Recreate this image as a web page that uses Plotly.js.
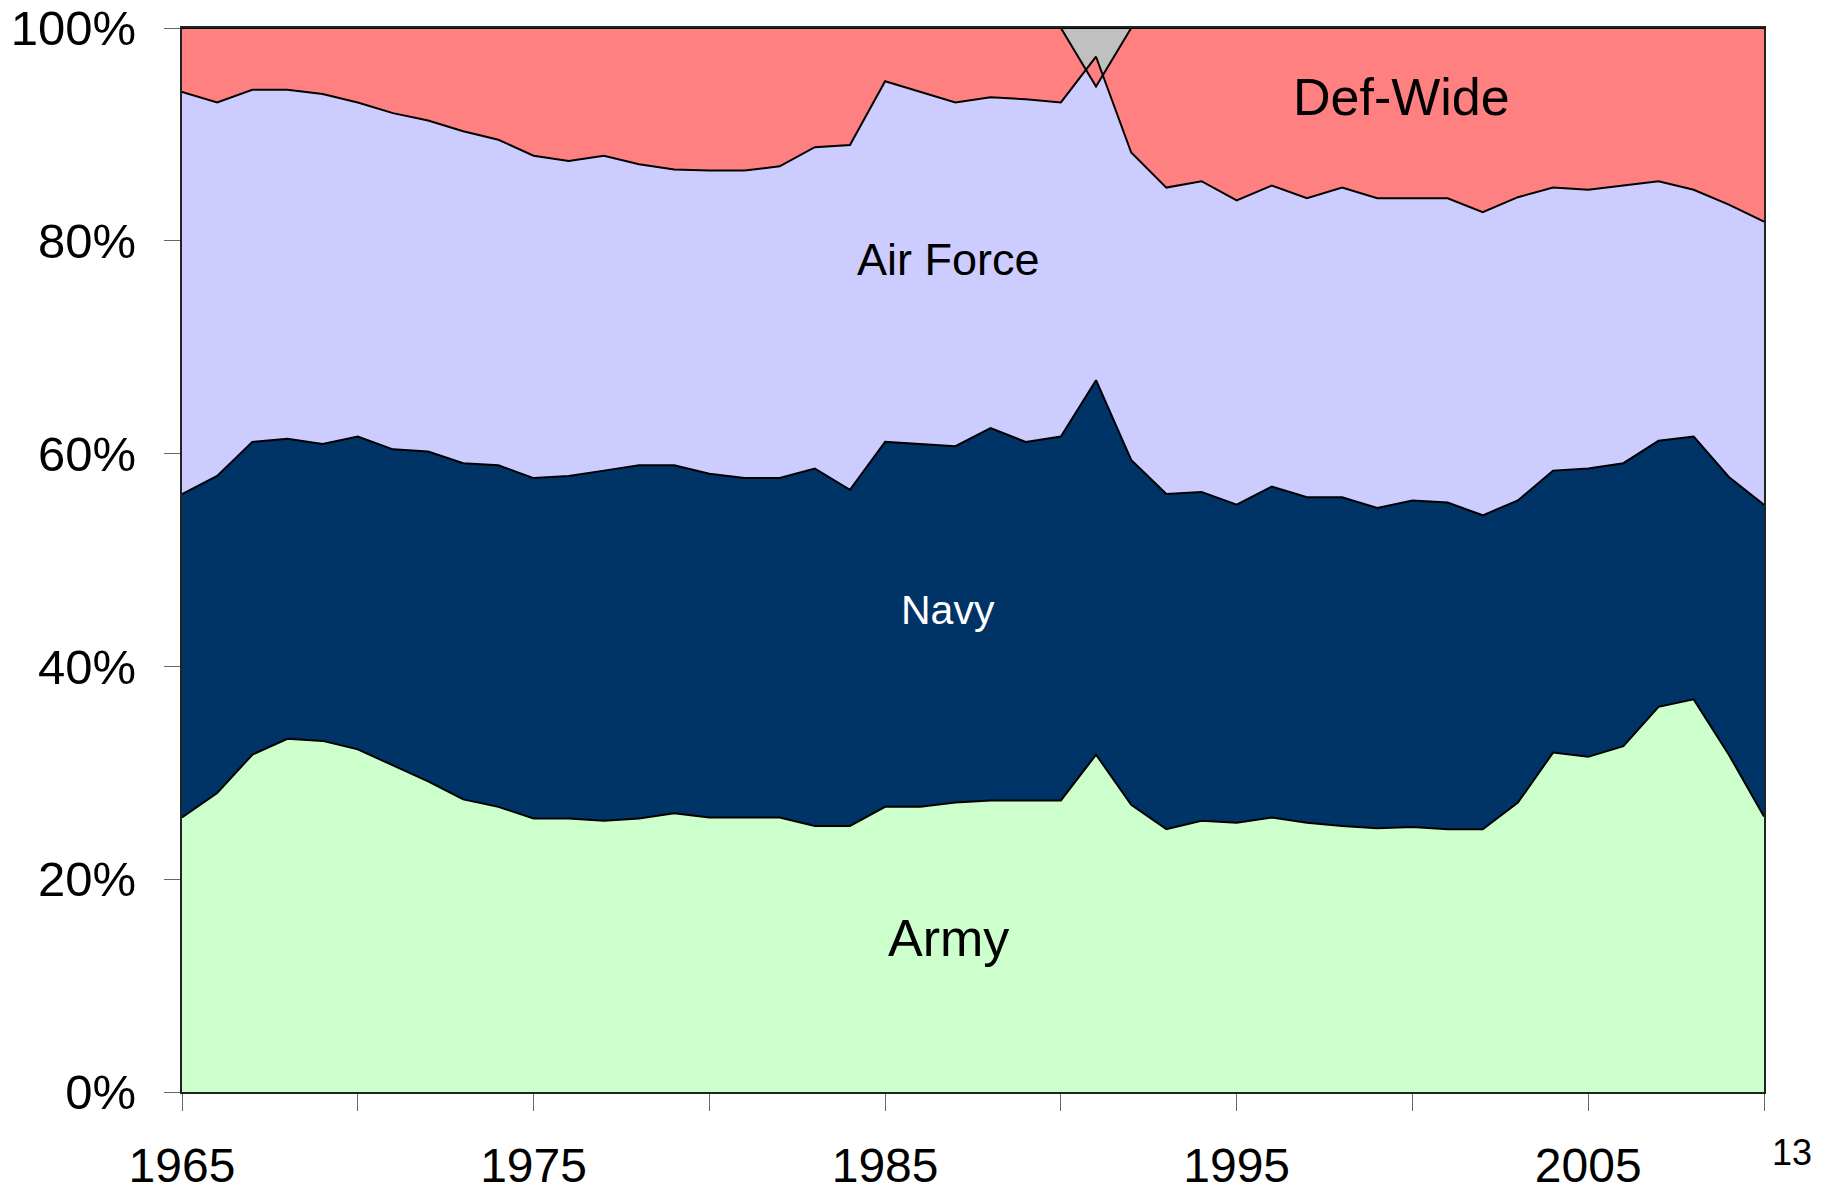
<!DOCTYPE html>
<html>
<head>
<meta charset="utf-8">
<script src="https://cdn.plot.ly/plotly-3.0.1.min.js"></script>
<style>html,body{margin:0;padding:0;background:#fff;}#chart{width:1839px;height:1195px;}</style>
</head>
<body>
<div id="chart"></div>
<script>
// Share of budget by component (percent), 1965-2010
const years = [1965,1966,1967,1968,1969,1970,1971,1972,1973,1974,1975,1976,1977,1978,1979,1980,1981,1982,1983,1984,1985,1986,1987,1988,1989,1990,1991,1992,1993,1994,1995,1996,1997,1998,1999,2000,2001,2002,2003,2004,2005,2006,2007,2008,2009,2010];
const army     = [25.8,28.1,31.7,33.2,33.0,32.2,30.7,29.2,27.5,26.8,25.7,25.7,25.5,25.7,26.2,25.8,25.8,25.8,25.0,25.0,26.8,26.8,27.2,27.4,27.4,27.4,31.7,27.0,24.7,25.5,25.3,25.8,25.3,25.0,24.8,24.9,24.7,24.7,27.2,31.9,31.5,32.5,36.2,36.9,31.7,25.9];
const navy     = [30.4,29.8,29.4,28.2,27.9,29.4,29.7,31.0,31.6,32.1,32.0,32.2,32.9,33.2,32.7,32.3,31.9,31.9,33.6,31.6,34.3,34.1,33.5,35.0,33.7,34.2,35.2,32.4,31.5,30.9,29.9,31.1,30.6,30.9,30.1,30.7,30.7,29.5,28.4,26.5,27.1,26.6,25.0,24.7,26.1,29.3];
const airForce = [37.8,35.1,33.1,32.8,32.9,31.4,31.6,31.1,31.2,30.6,30.3,29.6,29.6,28.3,27.8,28.5,28.9,29.3,30.2,32.4,33.9,33.1,32.3,31.1,32.2,31.4,30.4,28.9,28.8,29.2,28.6,28.3,28.1,29.1,29.1,28.4,28.6,28.5,28.5,26.6,26.2,26.1,24.4,23.2,25.6,26.6];
const defWide  = [6.0,7.0,5.8,5.8,6.2,7.0,8.0,8.7,9.7,10.5,12.0,12.5,12.0,12.8,13.3,13.4,13.4,13.0,11.2,11.0,5.0,6.0,7.0,6.5,6.7,7.0,-2.8,11.7,15.0,14.4,16.2,14.8,16.0,15.0,16.0,16.0,16.0,17.3,15.9,15.0,15.2,14.8,14.4,15.2,16.6,18.2];
const other    = [0,0,0,0,0,0,0,0,0,0,0,0,0,0,0,0,0,0,0,0,0,0,0,0,0,0,5.5,0,0,0,0,0,0,0,0,0,0,0,0,0,0,0,0,0,0,0];
const seriesNames = ['Army','Navy','Air Force','Def-Wide'];
const xTickVals = [1965,1970,1975,1980,1985,1990,1995,2000,2005,2010];
const xTickText = ['1965','','1975','','1985','','1995','','2005',''];
const yTickVals = [0,20,40,60,80,100];
const yTickText = ['0%','20%','40%','60%','80%','100%'];
const pageNumber = '13';

// cumulative shares, normalised to 100%
const series = [army, navy, airForce, defWide, other];
const cum = [];
let running = years.map(() => 0);
series.forEach(s => {
  running = running.map((v, i) => v + s[i]);
  cum.push(running.slice());
});
const totals = cum[cum.length - 1];
const pct = cum.map(c => c.map((v, i) => v / totals[i] * 100));

const colors = {army:'#CCFFCC', navy:'#003366', af:'#CCCCFF', dw:'#FF8080', other:'#C0C0C0'};
const base = {x: years, mode: 'lines', hoverinfo: 'skip', showlegend: false};
const traces = [
  Object.assign({}, base, {y: pct[0], fill: 'tozeroy', fillcolor: colors.army, line: {width: 0}}),
  Object.assign({}, base, {y: pct[1], fill: 'tonexty', fillcolor: colors.navy, line: {width: 0}}),
  Object.assign({}, base, {y: pct[2], fill: 'tonexty', fillcolor: colors.af, line: {width: 0}}),
  Object.assign({}, base, {y: pct[3], fill: 'tonexty', fillcolor: colors.dw, line: {width: 0}}),
  Object.assign({}, base, {y: pct[4], fill: 'tonexty', fillcolor: colors.other, line: {width: 0}}),
  Object.assign({}, base, {y: pct[2], line: {width: 0}}),
  Object.assign({}, base, {y: pct[3], fill: 'tonexty', fillcolor: colors.dw, line: {width: 0}}),
];
[0,1,2,3,4].forEach(k => {
  traces.push(Object.assign({}, base, {y: pct[k], line: {color: '#000', width: 2}}));
});

const layout = {
  width: 1839, height: 1195,
  margin: {l: 182, r: 75, t: 28, b: 103},
  paper_bgcolor: '#fff', plot_bgcolor: '#fff',
  font: {family: 'Liberation Sans, Arial, sans-serif', color: '#000'},
  xaxis: {
    range: [1965, 2010], tickvals: xTickVals, ticktext: xTickText,
    ticks: 'outside', ticklen: 17, tickwidth: 1, tickcolor: '#666',
    showgrid: false, zeroline: false, showline: true, linecolor: '#222', linewidth: 2, mirror: true,
    tickfont: {size: 48, color: '#000'}, ticklabelstandoff: 13
  },
  yaxis: {
    range: [0, 100], tickvals: yTickVals, ticktext: yTickText,
    ticks: 'outside', ticklen: 16, tickwidth: 1, tickcolor: '#666',
    showgrid: false, zeroline: false, showline: true, linecolor: '#222', linewidth: 2, mirror: true,
    tickfont: {size: 49, color: '#000'}, ticklabelstandoff: 18
  },
  annotations: [
    {x: 1999.7, y: 93.5, xref: 'x', yref: 'y', text: seriesNames[3], showarrow: false, font: {size: 52, color: '#000'}, xanchor: 'center', yanchor: 'middle'},
    {x: 1986.8, y: 78.2, xref: 'x', yref: 'y', text: seriesNames[2], showarrow: false, font: {size: 45, color: '#000'}, xanchor: 'center', yanchor: 'middle'},
    {x: 1986.8, y: 45.3, xref: 'x', yref: 'y', text: seriesNames[1], showarrow: false, font: {size: 41, color: '#fff'}, xanchor: 'center', yanchor: 'middle'},
    {x: 1986.8, y: 14.5, xref: 'x', yref: 'y', text: seriesNames[0], showarrow: false, font: {size: 52, color: '#000'}, xanchor: 'center', yanchor: 'middle'},
    {x: 1.0177, y: -0.057, xref: 'paper', yref: 'paper', text: pageNumber, showarrow: false, font: {size: 36, color: '#000'}, xanchor: 'center', yanchor: 'middle'}
  ]
};

Plotly.newPlot('chart', traces, layout, {staticPlot: true, displayModeBar: false});
</script>
</body>
</html>
